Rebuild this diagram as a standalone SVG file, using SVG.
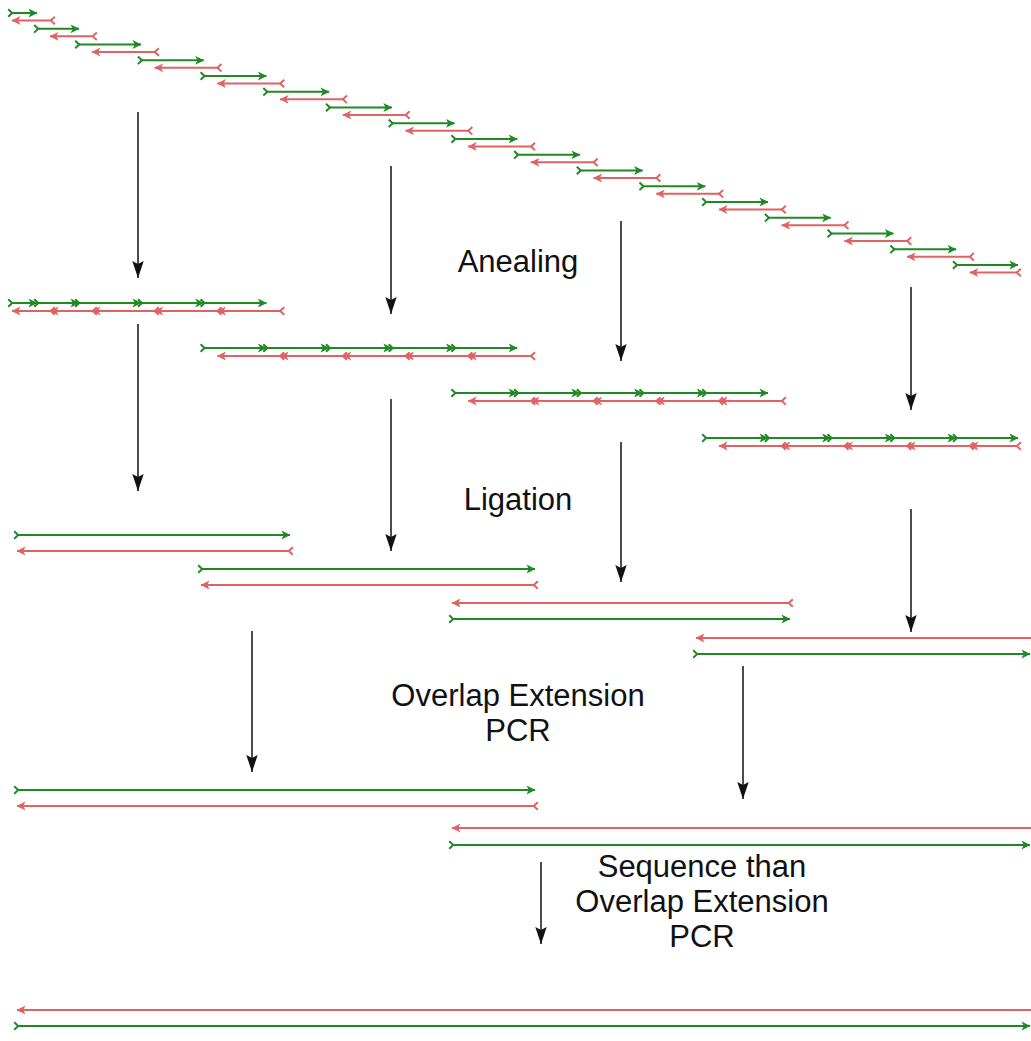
<svg xmlns="http://www.w3.org/2000/svg" width="1031" height="1041" viewBox="0 0 1031 1041">
  <style>
    .g { stroke: #1f8a24; stroke-width: 2; fill: none; marker-start: url(#chev-g); marker-end: url(#head-g); }
    .r { stroke: #e06262; stroke-width: 2; fill: none; marker-start: url(#chev-r); marker-end: url(#head-r); }
    .step { stroke: #111; stroke-width: 1.5; fill: none; marker-end: url(#head-k); }
    .lbl { font-family: "Liberation Sans", Arial, sans-serif; font-size: 31px; fill: #111; text-anchor: middle; }
  </style>
  <defs>
    <!-- strand ends: chevron at 5' end, filled head at 3' end -->
    <marker id="head-g" markerUnits="userSpaceOnUse" markerWidth="12" markerHeight="10" refX="10" refY="5" orient="auto" overflow="visible">
      <path d="M10.5,5 L1.5,0.6 L3.8,5 L1.5,9.4 Z" fill="#1f8a24"/>
    </marker>
    <marker id="chev-g" markerUnits="userSpaceOnUse" markerWidth="10" markerHeight="10" refX="5" refY="5" orient="auto" overflow="visible">
      <path d="M2.2,1.2 L6.2,5 L2.2,8.8" fill="none" stroke="#1f8a24" stroke-width="2"/>
    </marker>
    <marker id="head-r" markerUnits="userSpaceOnUse" markerWidth="12" markerHeight="10" refX="10" refY="5" orient="auto" overflow="visible">
      <path d="M10.5,5 L1.5,0.6 L3.8,5 L1.5,9.4 Z" fill="#e06262"/>
    </marker>
    <marker id="chev-r" markerUnits="userSpaceOnUse" markerWidth="10" markerHeight="10" refX="5" refY="5" orient="auto" overflow="visible">
      <path d="M2.2,1.2 L6.2,5 L2.2,8.8" fill="none" stroke="#e06262" stroke-width="2"/>
    </marker>
    <!-- process-step arrowhead -->
    <marker id="head-k" markerUnits="userSpaceOnUse" markerWidth="20" markerHeight="14" refX="18" refY="7" orient="auto" overflow="visible">
      <path d="M18,7 L1,1.3 L4,7 L1,12.7 Z" fill="#111"/>
    </marker>

    <!-- oligo set: forward (green) and reverse (red) strands, drawn at local y=0 / y=8 -->
    <g id="oligos-0-4">
      <line class="g" x1="11" y1="0" x2="37" y2="0"/>
      <line class="g" x1="37" y1="0" x2="79" y2="0"/>
      <line class="g" x1="78" y1="0" x2="141" y2="0"/>
      <line class="g" x1="140.7" y1="0" x2="203.7" y2="0"/>
      <line class="g" x1="203.4" y1="0" x2="266.4" y2="0"/>
      <line class="r" x1="52" y1="8" x2="12" y2="8"/>
      <line class="r" x1="94" y1="8" x2="50" y2="8"/>
      <line class="r" x1="156" y1="8" x2="92" y2="8"/>
      <line class="r" x1="218.7" y1="8" x2="154.7" y2="8"/>
      <line class="r" x1="281.4" y1="8" x2="217.4" y2="8"/>
    </g>
    <g id="oligos-4-8">
      <line class="g" x1="203.4" y1="0" x2="266.4" y2="0"/>
      <line class="g" x1="266.1" y1="0" x2="329.1" y2="0"/>
      <line class="g" x1="328.8" y1="0" x2="391.8" y2="0"/>
      <line class="g" x1="391.5" y1="0" x2="454.5" y2="0"/>
      <line class="g" x1="454.2" y1="0" x2="517.2" y2="0"/>
      <line class="r" x1="281.4" y1="8" x2="217.4" y2="8"/>
      <line class="r" x1="344.1" y1="8" x2="280.1" y2="8"/>
      <line class="r" x1="406.8" y1="8" x2="342.8" y2="8"/>
      <line class="r" x1="469.5" y1="8" x2="405.5" y2="8"/>
      <line class="r" x1="532.2" y1="8" x2="468.2" y2="8"/>
    </g>
    <g id="oligos-8-12">
      <line class="g" x1="454.2" y1="0" x2="517.2" y2="0"/>
      <line class="g" x1="516.9" y1="0" x2="579.9" y2="0"/>
      <line class="g" x1="579.6" y1="0" x2="642.6" y2="0"/>
      <line class="g" x1="642.3" y1="0" x2="705.3" y2="0"/>
      <line class="g" x1="705" y1="0" x2="768" y2="0"/>
      <line class="r" x1="532.2" y1="8" x2="468.2" y2="8"/>
      <line class="r" x1="594.9" y1="8" x2="530.9" y2="8"/>
      <line class="r" x1="657.6" y1="8" x2="593.6" y2="8"/>
      <line class="r" x1="720.3" y1="8" x2="656.3" y2="8"/>
      <line class="r" x1="783" y1="8" x2="719" y2="8"/>
    </g>
    <g id="oligos-12-16">
      <line class="g" x1="705" y1="0" x2="768" y2="0"/>
      <line class="g" x1="767.7" y1="0" x2="830.7" y2="0"/>
      <line class="g" x1="830.4" y1="0" x2="893.4" y2="0"/>
      <line class="g" x1="893.1" y1="0" x2="956.1" y2="0"/>
      <line class="g" x1="955.8" y1="0" x2="1018" y2="0"/>
      <line class="r" x1="783" y1="8" x2="719" y2="8"/>
      <line class="r" x1="845.7" y1="8" x2="781.7" y2="8"/>
      <line class="r" x1="908.4" y1="8" x2="844.4" y2="8"/>
      <line class="r" x1="971.1" y1="8" x2="907.1" y2="8"/>
      <line class="r" x1="1018" y1="8" x2="969.8" y2="8"/>
    </g>
  </defs>

  <rect width="1031" height="1041" fill="#ffffff"/>

  <!-- single-stranded oligos, staggered -->
  <g id="oligos">
    <line class="g" x1="11" y1="13" x2="37" y2="13"/>
    <line class="r" x1="52" y1="20.5" x2="12" y2="20.5"/>
    <line class="g" x1="37" y1="28.8" x2="79" y2="28.8"/>
    <line class="r" x1="94" y1="36.3" x2="50" y2="36.3"/>
    <line class="g" x1="78" y1="44.5" x2="141" y2="44.5"/>
    <line class="r" x1="156" y1="52" x2="92" y2="52"/>
    <line class="g" x1="140.7" y1="60.3" x2="203.7" y2="60.3"/>
    <line class="r" x1="218.7" y1="67.8" x2="154.7" y2="67.8"/>
    <line class="g" x1="203.4" y1="76" x2="266.4" y2="76"/>
    <line class="r" x1="281.4" y1="83.5" x2="217.4" y2="83.5"/>
    <line class="g" x1="266.1" y1="91.8" x2="329.1" y2="91.8"/>
    <line class="r" x1="344.1" y1="99.3" x2="280.1" y2="99.3"/>
    <line class="g" x1="328.8" y1="107.5" x2="391.8" y2="107.5"/>
    <line class="r" x1="406.8" y1="115" x2="342.8" y2="115"/>
    <line class="g" x1="391.5" y1="123.3" x2="454.5" y2="123.3"/>
    <line class="r" x1="469.5" y1="130.8" x2="405.5" y2="130.8"/>
    <line class="g" x1="454.2" y1="139" x2="517.2" y2="139"/>
    <line class="r" x1="532.2" y1="146.5" x2="468.2" y2="146.5"/>
    <line class="g" x1="516.9" y1="154.8" x2="579.9" y2="154.8"/>
    <line class="r" x1="594.9" y1="162.3" x2="530.9" y2="162.3"/>
    <line class="g" x1="579.6" y1="170.5" x2="642.6" y2="170.5"/>
    <line class="r" x1="657.6" y1="178" x2="593.6" y2="178"/>
    <line class="g" x1="642.3" y1="186.3" x2="705.3" y2="186.3"/>
    <line class="r" x1="720.3" y1="193.8" x2="656.3" y2="193.8"/>
    <line class="g" x1="705" y1="202" x2="768" y2="202"/>
    <line class="r" x1="783" y1="209.5" x2="719" y2="209.5"/>
    <line class="g" x1="767.7" y1="217.8" x2="830.7" y2="217.8"/>
    <line class="r" x1="845.7" y1="225.3" x2="781.7" y2="225.3"/>
    <line class="g" x1="830.4" y1="233.5" x2="893.4" y2="233.5"/>
    <line class="r" x1="908.4" y1="241" x2="844.4" y2="241"/>
    <line class="g" x1="893.1" y1="249.3" x2="956.1" y2="249.3"/>
    <line class="r" x1="971.1" y1="256.8" x2="907.1" y2="256.8"/>
    <line class="g" x1="955.8" y1="265" x2="1018" y2="265"/>
    <line class="r" x1="1018" y1="272.5" x2="969.8" y2="272.5"/>
  </g>

  <!-- annealed blocks -->
  <g id="annealed-1"><use href="#oligos-0-4" transform="translate(0,303)"/></g>
  <g id="annealed-2"><use href="#oligos-4-8" transform="translate(0,348)"/></g>
  <g id="annealed-3"><use href="#oligos-8-12" transform="translate(0,393)"/></g>
  <g id="annealed-4"><use href="#oligos-12-16" transform="translate(0,438)"/></g>

  <!-- ligated fragments -->
  <g id="ligated-1">
    <line class="g" x1="17" y1="535" x2="290" y2="535"/>
    <line class="r" x1="290" y1="551" x2="17" y2="551"/>
  </g>
  <g id="ligated-2">
    <line class="g" x1="201" y1="569" x2="535" y2="569"/>
    <line class="r" x1="535" y1="585" x2="201" y2="585"/>
  </g>
  <g id="ligated-3">
    <line class="r" x1="790" y1="603" x2="452" y2="603"/>
    <line class="g" x1="452" y1="619" x2="790" y2="619"/>
  </g>
  <g id="ligated-4">
    <line class="r" x1="1036" y1="638" x2="696" y2="638"/>
    <line class="g" x1="696" y1="654" x2="1030" y2="654"/>
  </g>

  <!-- overlap extension products -->
  <g id="oe-pcr-1">
    <line class="g" x1="17" y1="790" x2="535" y2="790"/>
    <line class="r" x1="535" y1="806" x2="17" y2="806"/>
  </g>
  <g id="oe-pcr-2">
    <line class="r" x1="1036" y1="828" x2="452" y2="828"/>
    <line class="g" x1="452" y1="845" x2="1030" y2="845"/>
  </g>

  <!-- full-length product -->
  <g id="full-length">
    <line class="r" x1="1036" y1="1010" x2="17" y2="1010"/>
    <line class="g" x1="17" y1="1026" x2="1030" y2="1026"/>
  </g>

  <!-- process arrows -->
  <g id="connectors">
    <line class="step" x1="138" y1="112" x2="138" y2="278"/>
    <line class="step" x1="391" y1="166" x2="391" y2="314"/>
    <line class="step" x1="621" y1="221" x2="621" y2="361"/>
    <line class="step" x1="911" y1="287" x2="911" y2="410"/>
    <line class="step" x1="138" y1="324" x2="138" y2="491"/>
    <line class="step" x1="391" y1="399" x2="391" y2="551"/>
    <line class="step" x1="621" y1="442" x2="621" y2="582"/>
    <line class="step" x1="911" y1="509" x2="911" y2="632"/>
    <line class="step" x1="252" y1="631" x2="252" y2="772"/>
    <line class="step" x1="743" y1="666" x2="743" y2="799"/>
    <line class="step" x1="541" y1="862" x2="541" y2="944"/>
  </g>

  <!-- step labels -->
  <g id="labels">
    <text class="lbl" x="518" y="272">Anealing</text>
    <text class="lbl" x="518" y="510">Ligation</text>
    <text class="lbl" x="518" y="706">Overlap Extension</text>
    <text class="lbl" x="518" y="741">PCR</text>
    <text class="lbl" x="702" y="877">Sequence than</text>
    <text class="lbl" x="702" y="912">Overlap Extension</text>
    <text class="lbl" x="702" y="947">PCR</text>
  </g>
</svg>
